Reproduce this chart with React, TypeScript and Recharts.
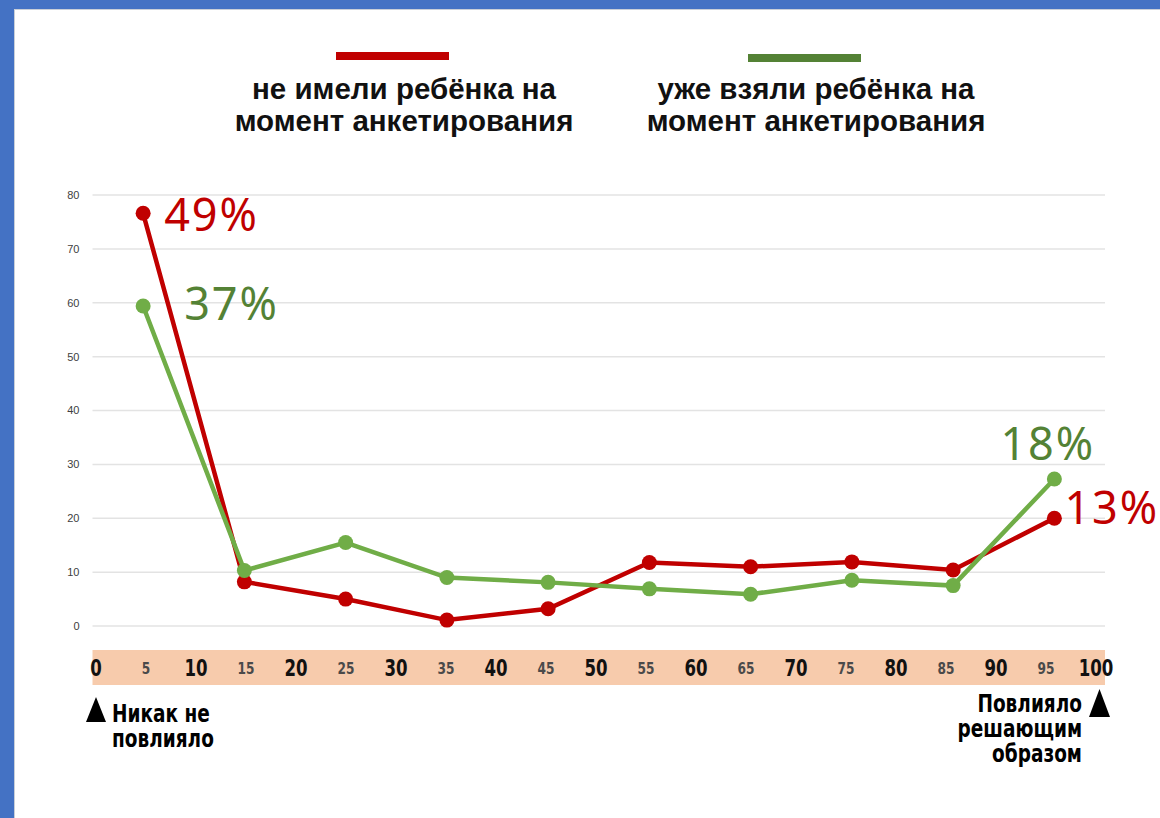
import React from 'react';
import { LineChart, Line, XAxis, YAxis, CartesianGrid, Legend, LabelList } from 'recharts';

// ---- data ----
const xPositions = [5, 15, 25, 35, 45, 55, 65, 75, 85, 95];
const notAdoptedValues = [76.6, 8.2, 5.0, 1.1, 3.2, 11.8, 11.0, 11.9, 10.4, 20.0];
const adoptedValues = [59.4, 10.3, 15.5, 9.0, 8.1, 6.9, 5.9, 8.5, 7.5, 27.3];
const notAdoptedLabels = ['49%', '', '', '', '', '', '', '', '', '13%'];
const adoptedLabels = ['37%', '', '', '', '', '', '', '', '', '18%'];
const seriesNames = ['не имели ребёнка на момент анкетирования', 'уже взяли ребёнка на момент анкетирования'];
const yTicks = [0, 10, 20, 30, 40, 50, 60, 70, 80];
const bandTicks = [0, 5, 10, 15, 20, 25, 30, 35, 40, 45, 50, 55, 60, 65, 70, 75, 80, 85, 90, 95, 100];
const leftNote = ['Никак не', 'повлияло'];
const rightNote = ['Повлияло', 'решающим', 'образом'];

const data = xPositions.map((x, i) => ({
  x,
  notAdopted: notAdoptedValues[i],
  adopted: adoptedValues[i],
  notAdoptedLabel: notAdoptedLabels[i],
  adoptedLabel: adoptedLabels[i],
}));

const RED = '#C00000';
const GREEN_LINE = '#70AD47';
const GREEN_TEXT = '#548235';
const NARROW = "'Liberation Sans Narrow', 'DejaVu Sans Condensed', 'Roboto', sans-serif";

type Placement = { dx: number; dy: number; anchor: 'start' | 'end' | 'middle' };
const redPlacement: Record<number, Placement> = {
  0: { dx: 21, dy: 18, anchor: 'start' },
  9: { dx: 10, dy: 6, anchor: 'start' },
};
const greenPlacement: Record<number, Placement> = {
  0: { dx: 41, dy: 14, anchor: 'start' },
  9: { dx: -54, dy: -19, anchor: 'start' },
};

const makePctLabel = (color: string, placement: Record<number, Placement>) => (props: any) => {
  const { x, y, value, index } = props;
  if (!value) return null;
  const p = placement[index] || { dx: 10, dy: 0, anchor: 'start' };
  return (
    <text
      x={x + p.dx}
      y={y + p.dy}
      textAnchor={p.anchor}
      fill={color}
      fontFamily="'Noto Sans', 'Open Sans', sans-serif"
      fontSize={45}
      letterSpacing={2}
    >
      {value}
    </text>
  );
};

const BandTick = (props: any) => {
  const { x, y, payload } = props;
  const major = payload.value % 10 === 0;
  return (
    <g transform={`translate(${x},${y}) scale(0.82,1)`}>
      <text
        x={0}
        y={major ? 8 : 6}
        textAnchor="middle"
        fill={major ? '#111' : '#4a4a4a'}
        fontFamily={NARROW}
        fontWeight="bold"
        fontSize={major ? 22.5 : 16.5}
      >
        {payload.value}
      </text>
    </g>
  );
};

const legendPlacement = [
  { center: 404, lineTop: 52, lineOffset: -12 },
  { center: 816, lineTop: 54, lineOffset: -12 },
];

const renderLegend = (props: any) => {
  const { payload } = props;
  return (
    <div style={{ position: 'relative', width: 1160, height: 150 }}>
      {(payload || []).map((entry: any, i: number) => {
        const pl = legendPlacement[i] || legendPlacement[0];
        const words = String(entry.value);
        const split = words.indexOf(' момент');
        const line1 = words.slice(0, split);
        const line2 = words.slice(split + 1);
        return (
          <div key={i}>
            <div
              style={{
                position: 'absolute',
                left: pl.center + pl.lineOffset - 56,
                top: pl.lineTop,
                width: 113,
                height: 8,
                background: i === 0 ? RED : GREEN_TEXT,
              }}
            />
            <div
              style={{
                position: 'absolute',
                left: pl.center - 250,
                width: 500,
                top: 73,
                textAlign: 'center',
                fontFamily: "'Liberation Sans', Arial, sans-serif",
                fontWeight: 'bold',
                fontSize: 29.5,
                lineHeight: '32px',
                color: '#111',
              }}
            >
              <div>{line1}</div>
              <div>{line2}</div>
            </div>
          </div>
        );
      })}
    </div>
  );
};

export default function App() {
  return (
    <div style={{ position: 'absolute', left: 0, top: 0, width: 1160, height: 818, background: '#fff', overflow: 'hidden' }}>
      {/* blue frame */}
      <div style={{ position: 'absolute', left: 0, top: 0, width: 1160, height: 9, background: '#4472C4' }} />
      <div style={{ position: 'absolute', left: 0, top: 0, width: 14, height: 818, background: '#4472C4' }} />
      <div style={{ position: 'absolute', left: 14, top: 9, width: 1146, height: 1, background: '#c9cfd8' }} />
      <div style={{ position: 'absolute', left: 14, top: 9, width: 1, height: 809, background: '#c9cfd8' }} />

      <div style={{ position: 'absolute', left: 0, top: 0 }}>
        <LineChart
          width={1160}
          height={818}
          data={data}
          margin={{ top: 195, right: 55, bottom: 120.5, left: 52.5 }}
        >
          <CartesianGrid vertical={false} stroke="#e3e3e3" strokeWidth={1.5} />
          <XAxis dataKey="x" type="number" domain={[0, 100]} hide height={0} allowDataOverflow />
          <XAxis
            xAxisId="band"
            dataKey="x"
            type="number"
            domain={[-0.35, 100.9]}
            ticks={bandTicks}
            allowDataOverflow
            interval={0}
            height={30}
            tickSize={0}
            tickMargin={0}
            tickLine={false}
            axisLine={{ stroke: '#F7CBAC', strokeWidth: 35 }}
            tick={<BandTick />}
          />
          <YAxis
            type="number"
            domain={[-7.7, 80]}
            ticks={yTicks}
            allowDataOverflow
            width={40}
            axisLine={false}
            tickLine={false}
            tickSize={6}
            tickMargin={7}
            tick={{ fill: '#404040', fontSize: 11, fontFamily: "'Liberation Sans', Arial, sans-serif" }}
          />
          <Legend
            layout="vertical"
            align="center"
            verticalAlign="middle"
            wrapperStyle={{ top: 0, left: 0, width: 1160, height: 150 }}
            content={renderLegend}
          />
          <Line
            name={seriesNames[0]}
            dataKey="notAdopted"
            stroke={RED}
            strokeWidth={4.5}
            dot={{ r: 7.5, fill: RED, stroke: RED, strokeWidth: 0 }}
            activeDot={false}
            isAnimationActive={false}
          >
            <LabelList dataKey="notAdoptedLabel" content={makePctLabel(RED, redPlacement)} />
          </Line>
          <Line
            name={seriesNames[1]}
            dataKey="adopted"
            stroke={GREEN_LINE}
            strokeWidth={4.5}
            dot={{ r: 7.5, fill: GREEN_LINE, stroke: GREEN_LINE, strokeWidth: 0 }}
            activeDot={false}
            isAnimationActive={false}
          >
            <LabelList dataKey="adoptedLabel" content={makePctLabel(GREEN_TEXT, greenPlacement)} />
          </Line>
        </LineChart>
      </div>

      {/* bottom annotations */}
      <svg width={1160} height={818} style={{ position: 'absolute', left: 0, top: 0, pointerEvents: 'none' }}>
        <polygon points="96,697 86,722 106,722" fill="#000" />
        <polygon points="1099.5,689 1089,717 1110,717" fill="#000" />
        <g transform="translate(112,0) scale(0.84,1)">
          <text fontFamily={NARROW} fontWeight="bold" fontSize={24.5} fill="#000">
            {leftNote.map((t, i) => (
              <tspan key={i} x={0} y={722 + i * 25}>{t}</tspan>
            ))}
          </text>
        </g>
        <g transform="translate(1082,0) scale(0.84,1)">
          <text fontFamily={NARROW} fontWeight="bold" fontSize={24.5} fill="#000" textAnchor="end">
            {rightNote.map((t, i) => (
              <tspan key={i} x={0} y={712 + i * 25}>{t}</tspan>
            ))}
          </text>
        </g>
      </svg>
    </div>
  );
}
